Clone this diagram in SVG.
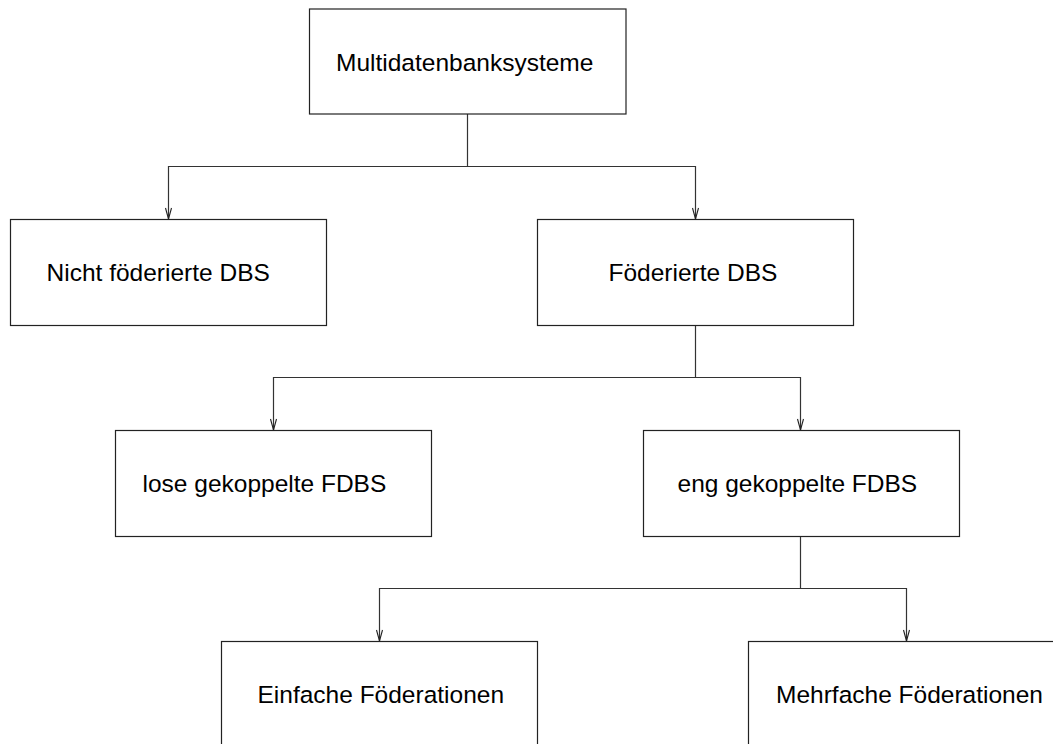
<svg xmlns="http://www.w3.org/2000/svg" width="1053" height="744" viewBox="0 0 1053 744">
  <style>
    .box { fill: #ffffff; stroke: #222222; stroke-width: 1.2; }
    .lbl { font-family: "Liberation Sans", Arial, sans-serif; font-size: 24.5px; fill: #000000; }
    .conn { fill: none; stroke: #333333; stroke-width: 1.2; }
  </style>
  <defs>
    <marker id="arr" markerUnits="userSpaceOnUse" markerWidth="14" markerHeight="12" refX="12" refY="6" orient="auto" viewBox="0 0 14 12">
      <path d="M1,3 L12,6 L1,9" fill="none" stroke="#222222" stroke-width="1.1"/>
    </marker>
  </defs>
  <rect width="1053" height="744" fill="#ffffff"/>

  <g id="connectors">
    <path class="conn" d="M467.5,114 V166.5 H168.5 V219" marker-end="url(#arr)"/>
    <path class="conn" d="M467.5,166.5 H695.5 V219" marker-end="url(#arr)"/>
    <path class="conn" d="M695.5,325 V377.5 H273.5 V430" marker-end="url(#arr)"/>
    <path class="conn" d="M695.5,377.5 H800.5 V430" marker-end="url(#arr)"/>
    <path class="conn" d="M800.5,536 V588.5 H379.5 V641" marker-end="url(#arr)"/>
    <path class="conn" d="M800.5,588.5 H906.5 V641" marker-end="url(#arr)"/>
  </g>

  <g id="node-multidatenbanksysteme">
    <rect class="box" x="309.5" y="9" width="316.5" height="105"/>
    <text class="lbl" x="336" y="70.5">Multidatenbanksysteme</text>
  </g>
  <g id="node-nicht-foederierte">
    <rect class="box" x="10.5" y="219.5" width="316" height="106"/>
    <text class="lbl" x="46.5" y="280.5">Nicht föderierte DBS</text>
  </g>
  <g id="node-foederierte">
    <rect class="box" x="537.5" y="219.5" width="316" height="106"/>
    <text class="lbl" x="608.5" y="280.5">Föderierte DBS</text>
  </g>
  <g id="node-lose">
    <rect class="box" x="115.5" y="430.5" width="316" height="106"/>
    <text class="lbl" x="142.5" y="491.5">lose gekoppelte FDBS</text>
  </g>
  <g id="node-eng">
    <rect class="box" x="643.5" y="430.5" width="316" height="106"/>
    <text class="lbl" x="677.5" y="491.5">eng gekoppelte FDBS</text>
  </g>
  <g id="node-einfache">
    <rect class="box" x="221.5" y="641.5" width="316" height="106"/>
    <text class="lbl" x="257.5" y="702.5">Einfache Föderationen</text>
  </g>
  <g id="node-mehrfache">
    <rect class="box" x="748.5" y="641.5" width="316" height="106"/>
    <text class="lbl" x="776" y="702.5">Mehrfache Föderationen</text>
  </g>
</svg>
